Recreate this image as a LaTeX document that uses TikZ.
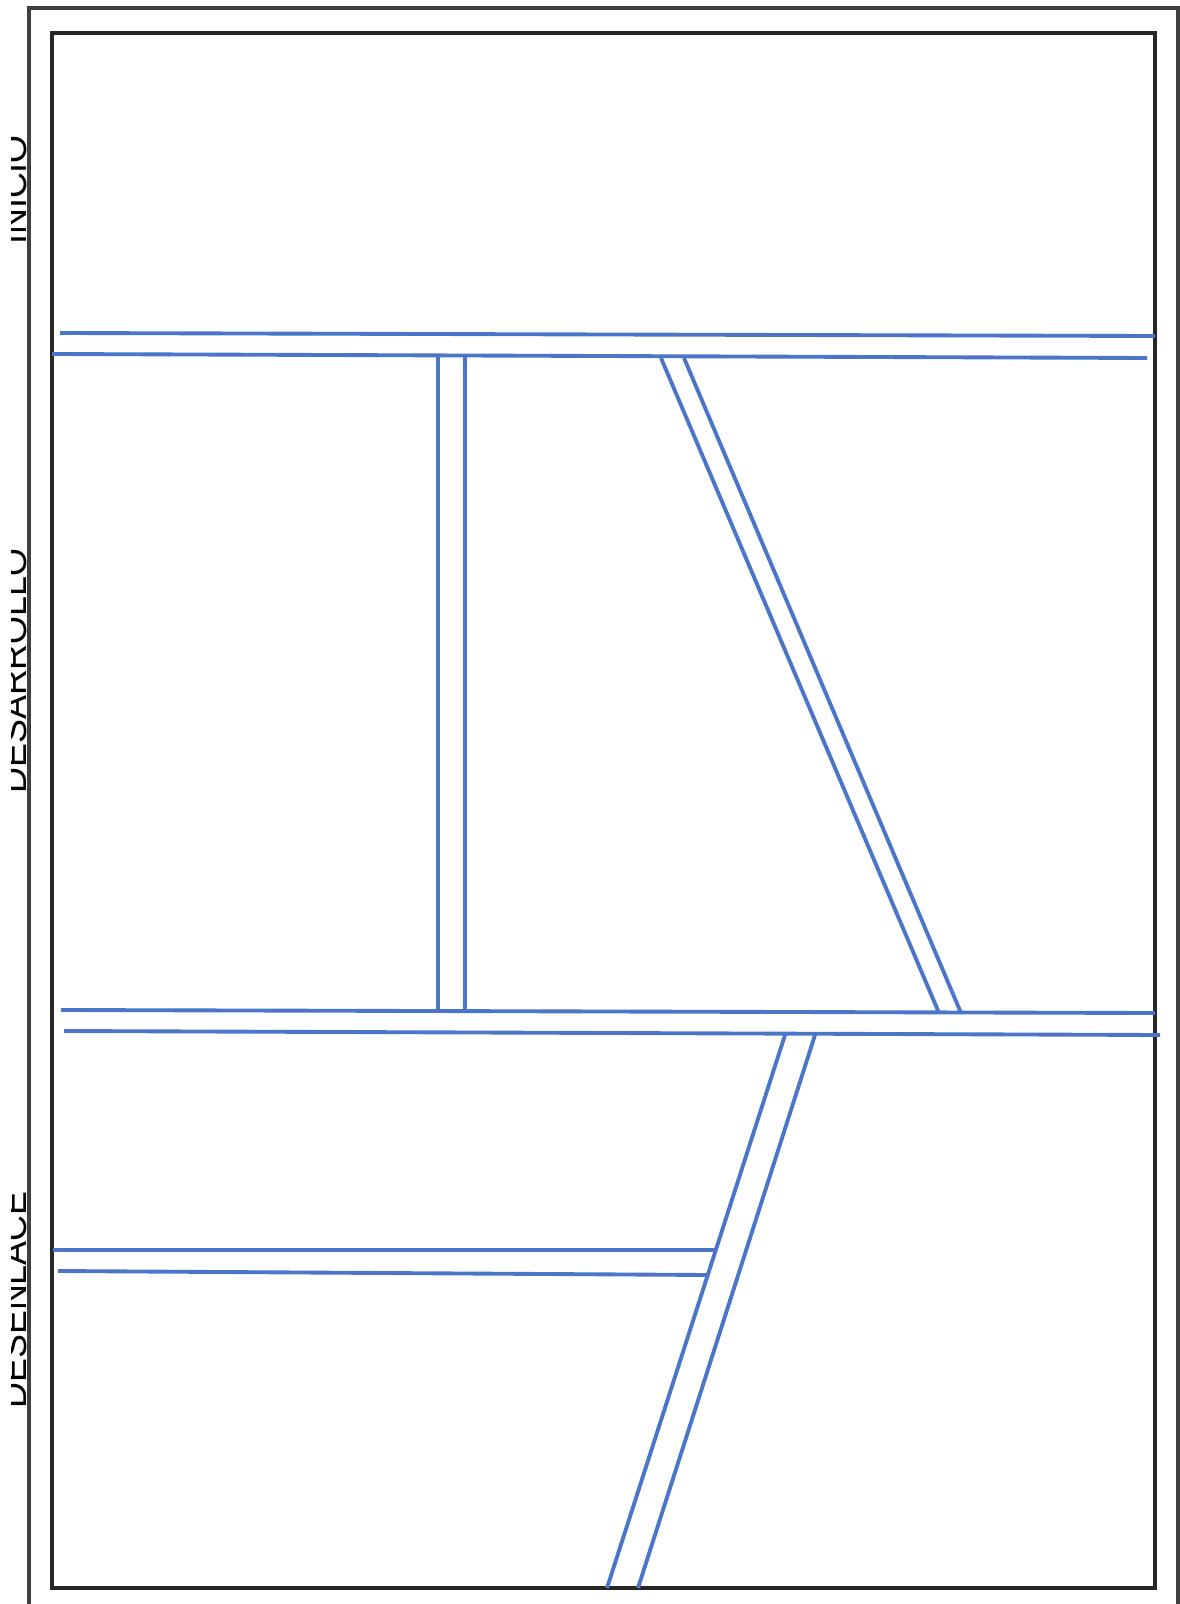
\documentclass[tikz,border=0pt]{standalone}
\usepackage{fontspec}
\setmainfont{Liberation Sans}
\usetikzlibrary{positioning}

\begin{document}
\begin{tikzpicture}[
    x=0.01cm, y=-0.01cm,
    frame/.style={draw=black!85, line width=1.3pt},
    band/.style={draw={rgb,255:red,74;green,117;blue,200}, line width=1.1pt},
    tag/.style={rotate=90, anchor=base, inner sep=0pt, font=\fontsize{10.2pt}{12pt}\selectfont}
]
\useasboundingbox[fill=white] (0,0) rectangle (1180,1604);

% frames
\draw[frame, draw=black!75] (29,8) rectangle (1178,1630);
\draw[frame] (52,33) rectangle (1155,1588);

% stage labels, cut at the left edge
\begin{scope}
\clip (11,0) rectangle (29,1604);
\node[tag] (inicio) at (27,190) {INICIO};
\node[tag] (desarrollo) at (27,671) {DESARROLLO};
\node[tag] (desenlace) at (27,1300) {DESENLACE};
\end{scope}

% top band
\draw[band] (60,333) -- (1155,336);
\draw[band] (52,354) -- (1147,358);

% vertical band
\draw[band] (438,355) -- (438,1011);
\draw[band] (465,355) -- (465,1011);

% slanted band, upper part
\draw[band] (661,358) -- (939,1013);
\draw[band] (684,358) -- (961,1013);

% middle band
\draw[band] (61,1010) -- (1155,1013);
\draw[band] (64,1031) -- (1160,1035);

% slanted band, lower part
\draw[band] (785,1035) -- (607,1588);
\draw[band] (815,1035) -- (638,1588);

% short band
\draw[band] (53,1250) -- (715,1250);
\draw[band] (58,1271) -- (709,1275);
\end{tikzpicture}
\end{document}
